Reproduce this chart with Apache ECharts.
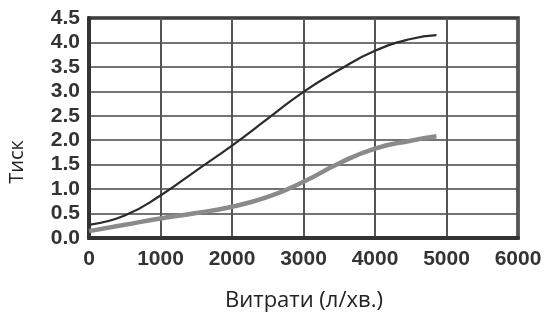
<!DOCTYPE html>
<html>
<head>
<meta charset="utf-8">
<script src="https://cdn.jsdelivr.net/npm/echarts@6/dist/echarts.min.js"></script>
<style>
html,body{margin:0;padding:0;background:#fff;}
#c{width:548px;height:318px;}
</style>
</head>
<body>
<div id="c"></div>
<script>
const flow = [0, 500, 1000, 1500, 2000, 2500, 3000, 3500, 4000, 4500, 4860];
const pressureDark = [0.27, 0.46, 0.87, 1.38, 1.89, 2.44, 2.99, 3.44, 3.83, 4.07, 4.15];
const pressureGray = [0.14, 0.27, 0.40, 0.51, 0.64, 0.84, 1.15, 1.53, 1.83, 1.99, 2.08];
const yTickLabels = ['0.0','0.5','1.0','1.5','2.0','2.5','3.0','3.5','4.0','4.5'];
const xTickLabels = ['0','1000','2000','3000','4000','5000','6000'];
const yTitle = 'Тиск';
const xTitle = 'Витрати (л/хв.)';

const tickFont = "'Liberation Sans', Arial, sans-serif";
const chart = echarts.init(document.getElementById('c'), null, {renderer: 'canvas'});
chart.setOption({
  animation: false,
  backgroundColor: '#fff',
  grid: {left: 89, right: 30, top: 18, bottom: 80, show: true, borderColor: '#333', borderWidth: 3.5},
  xAxis: {
    type: 'value', min: 0, max: 6000, interval: 1000,
    axisLine: {show: true, lineStyle: {color: '#333', width: 4}},
    axisTick: {show: false},
    splitLine: {show: true, lineStyle: {color: '#555', width: 2}},
    axisLabel: {
      margin: 11, color: '#333', fontWeight: 'bold', fontSize: 21, fontFamily: tickFont,
      formatter: v => xTickLabels[Math.round(v / 1000)]
    }
  },
  yAxis: {
    type: 'value', min: 0, max: 4.5, interval: 0.5,
    axisLine: {show: true, lineStyle: {color: '#333', width: 4}},
    axisTick: {show: false},
    splitLine: {show: true, lineStyle: {color: '#444', width: 1.6}},
    axisLabel: {
      margin: 9, color: '#333', fontWeight: 'bold', fontSize: 21, fontFamily: tickFont,
      padding: [6, 0, 0, 0],
      formatter: v => yTickLabels[Math.round(v / 0.5)]
    }
  },
  series: [
    {
      type: 'line', smooth: true, showSymbol: false,
      data: flow.map((f, i) => [f, pressureGray[i]]),
      lineStyle: {color: '#8a8a8a', width: 4.5}
    },
    {
      type: 'line', smooth: true, showSymbol: false,
      data: flow.map((f, i) => [f, pressureDark[i]]),
      lineStyle: {color: '#2b2b2b', width: 2.2}
    }
  ],
  graphic: [
    {
      type: 'text', x: 17, y: 162, rotation: Math.PI / 2,
      style: {text: yTitle, font: "20px 'Open Sans', sans-serif", fill: '#222', align: 'center', verticalAlign: 'middle'}
    },
    {
      type: 'text', x: 304, y: 301,
      style: {text: xTitle, font: "22px 'Open Sans', sans-serif", fill: '#222', align: 'center', verticalAlign: 'middle'}
    }
  ]
});
</script>
</body>
</html>
